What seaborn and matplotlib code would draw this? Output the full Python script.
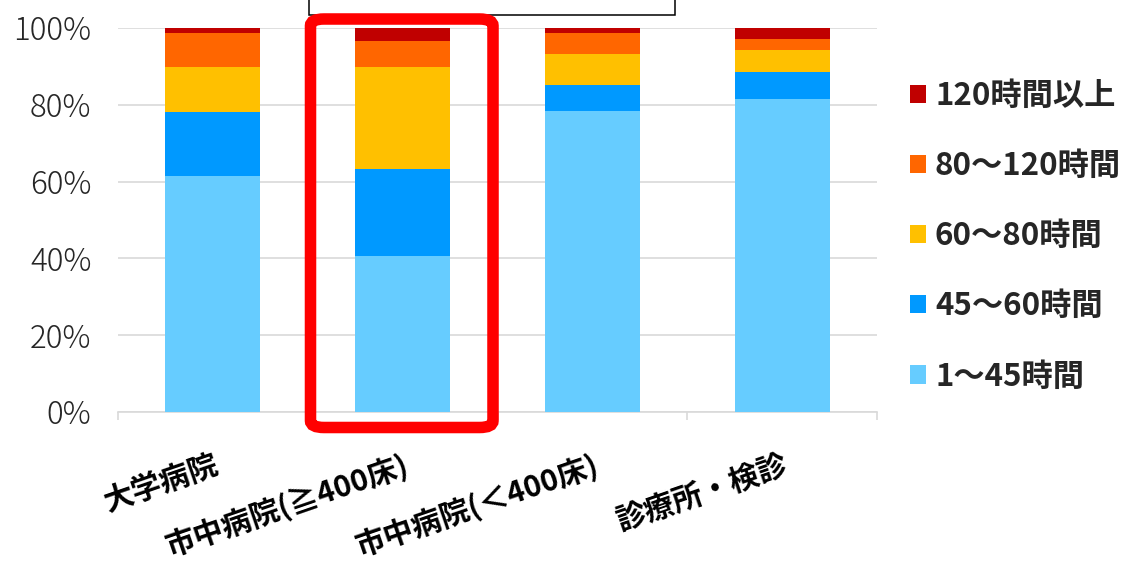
import matplotlib
matplotlib.use("Agg")
import matplotlib.pyplot as plt
from matplotlib.patches import FancyBboxPatch, Rectangle, Patch
from matplotlib.ticker import FixedLocator, PercentFormatter
import numpy as np
import seaborn as sns

# Share of doctors by monthly overtime band, per workplace type (%)
categories = ["大学病院", "市中病院(≧400床)", "市中病院(＜400床)", "診療所・検診"]
bands = ["1～45時間", "45～60時間", "60～80時間", "80～120時間", "120時間以上"]
h1_45 = [61.5, 40.6, 78.5, 81.5]
h45_60 = [16.6, 22.8, 6.7, 7.1]
h60_80 = [11.7, 26.4, 8.0, 5.7]
h80_120 = [8.9, 6.8, 5.5, 2.8]
h120_plus = [1.3, 3.4, 1.3, 2.9]
colors = ["#66CCFF", "#0099FF", "#FFC000", "#FF6600", "#C00000"]

sns.set_theme(style="white")
plt.rcParams["font.family"] = ["Noto Sans CJK JP", "DejaVu Sans"]

W, H = 1127, 562
fig = plt.figure(figsize=(W / 100, H / 100), dpi=100)
ax = fig.add_axes([118 / W, (H - 412) / H, (877 - 118) / W, 384 / H])

series = [h1_45, h45_60, h60_80, h80_120, h120_plus]
cum = np.cumsum(np.array(series, dtype=float), axis=0) / 100.0

# stacked bars: draw cumulative totals from the top band down
for i in range(len(series) - 1, -1, -1):
    sns.barplot(x=categories, y=cum[i], color=colors[i], width=0.5,
                saturation=1, ax=ax, edgecolor="none", zorder=3)

ax.set_xlim(-0.5, 3.5)
ax.set_ylim(0, 1.0)
ax.set_xlabel("")
ax.set_ylabel("")

ax.yaxis.set_major_locator(FixedLocator(np.linspace(0, 1, 6)))
ax.yaxis.set_major_formatter(PercentFormatter(1.0, decimals=0))
ax.grid(axis="y", color="#D9D9D9", linewidth=1.2, zorder=0)
ax.set_axisbelow(True)
for s in ["top", "right", "left"]:
    ax.spines[s].set_visible(False)
ax.spines["bottom"].set_color("#D9D9D9")
ax.spines["bottom"].set_linewidth(1.2)

ax.tick_params(axis="y", length=0, pad=19, labelsize=22.5, labelcolor="#262626")
for t in ax.get_yticklabels():
    t.set_fontweight("light")

ax.xaxis.set_minor_locator(FixedLocator([-0.5, 0.5, 1.5, 2.5, 3.5]))
ax.tick_params(axis="x", which="minor", length=6, width=1.2, color="#D9D9D9",
               direction="out", bottom=True)
ax.tick_params(axis="x", which="major", length=0, pad=27)
ax.set_xticks(range(len(categories)))
ax.set_xticklabels(categories, rotation=19, ha="right", va="top",
                   rotation_mode="anchor", fontsize=21.5, fontweight="bold",
                   color="black")

# legend, highest band first
handles = [Patch(facecolor=colors[i], edgecolor="none", label=bands[i])
           for i in range(len(bands) - 1, -1, -1)]
fig.legend(handles=handles, loc="upper left",
           bbox_to_anchor=(910 / W, 1 - 80 / H), frameon=False,
           prop={"size": 22.5, "weight": "bold"}, handlelength=0.52,
           handleheight=0.52, handletextpad=0.28, labelspacing=1.22,
           borderpad=0, borderaxespad=0)

# highlight frame around the large city hospitals
fig.patches.append(FancyBboxPatch(
    (310.5 / W, (H - 427.5) / H), 182.5 / W, 408.5 / H,
    boxstyle="round,pad=0,rounding_size=0.012", transform=fig.transFigure,
    facecolor="none", edgecolor="#FF0000", linewidth=8.3, zorder=10))
# callout box running off the top edge
fig.patches.append(Rectangle(
    (309 / W, (H - 15) / H), (675 - 309) / W, 40 / H,
    transform=fig.transFigure, facecolor="white", edgecolor="black",
    linewidth=1.1, zorder=9, clip_on=False))

fig.savefig("out.png", dpi=100)
